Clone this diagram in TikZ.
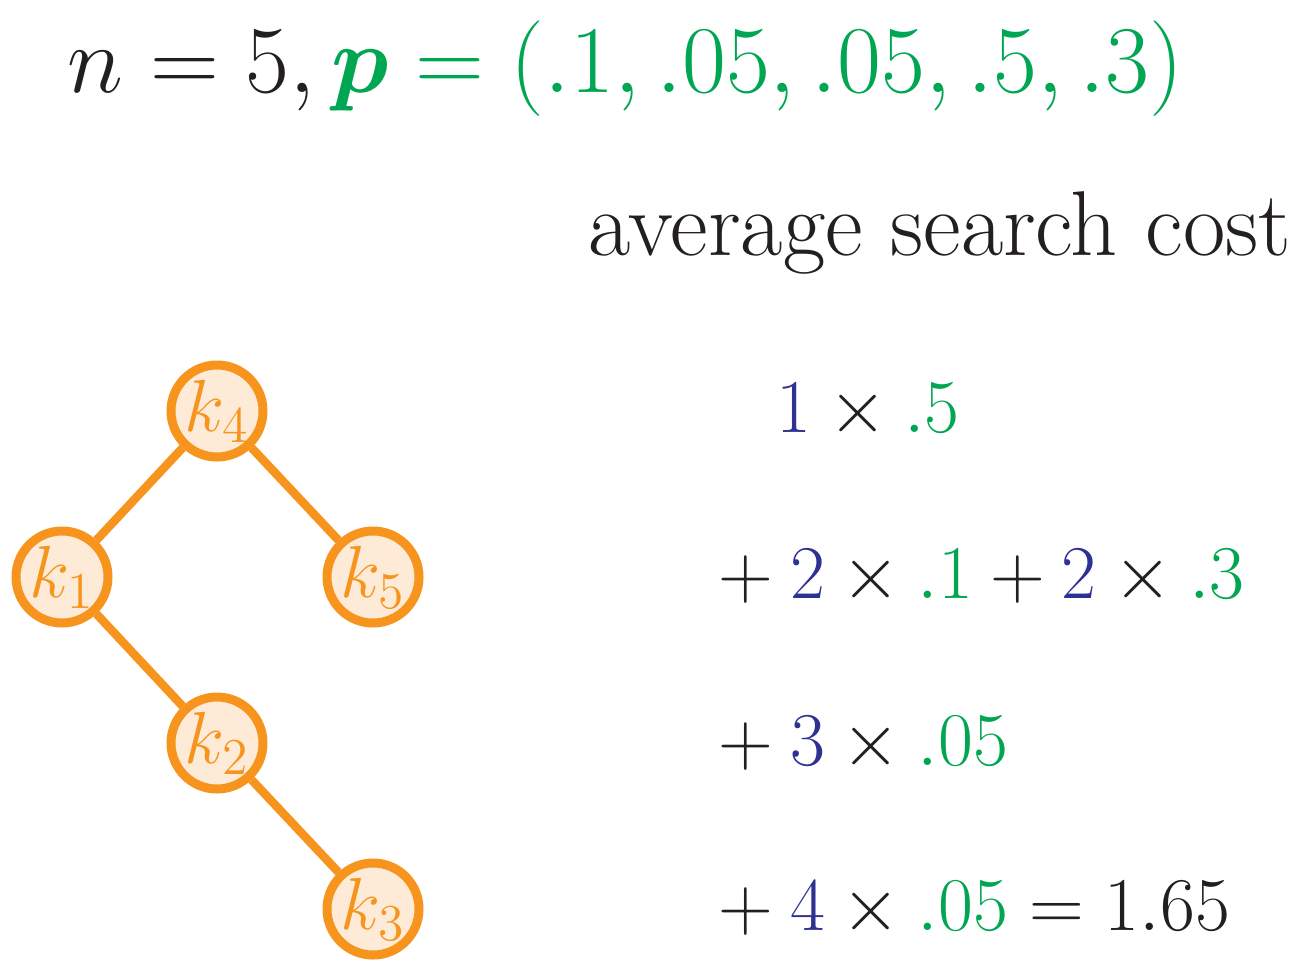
\RequirePackage{fix-cm}
\documentclass[tikz,border=0pt]{standalone}
\usepackage{amsmath}
\usepackage{amssymb}
\usepackage{bm}
\usepackage{tikz}

\definecolor{ink}{HTML}{231F20}
\definecolor{bstorange}{HTML}{F7941D}
\definecolor{bstfill}{HTML}{FDEBD7}
\definecolor{probgreen}{HTML}{00A651}
\definecolor{depthblue}{HTML}{2E3192}

\newcommand{\dep}[1]{\textcolor{depthblue}{#1}}
\newcommand{\prb}[1]{\textcolor{probgreen}{#1}}

\begin{document}
\begin{tikzpicture}[
    key/.style={circle, draw=bstorange, fill=bstfill, line width=0.09cm,
      minimum size=0.92cm, inner sep=0pt, text=bstorange,
      font=\fontsize{21}{24}\selectfont},
    link/.style={bstorange, line width=0.085cm},
    eq/.style={anchor=base west, inner sep=0pt, text=ink,
      font=\fontsize{21.6}{26}\selectfont}
  ]
  \useasboundingbox (0,0) rectangle (12.97,9.63);
  % 1. Khóa và xác suất
  \node[eq, font=\fontsize{27.2}{32}\selectfont] (title) at (0.67,8.71)
    {$n=5, \textcolor{probgreen}{\bm{p}=(.1, .05, .05, .5, .3)}$};
  \node[eq, font=\fontsize{26.2}{30}\selectfont] (avg) at (5.88,7.08) {average search cost};
  % 2. Cây tìm kiếm nhị phân
  \node[key] (k4) at (2.17,5.52) {$k_4$};
  \node[key] (k1) at (0.62,3.86) {$k_1$};
  \node[key] (k5) at (3.73,3.86) {$k_5$};
  \node[key] (k2) at (2.17,2.20) {$k_2$};
  \node[key] (k3) at (3.73,0.54) {$k_3$};
  \draw[link] (k4) -- (k1);
  \draw[link] (k4) -- (k5);
  \draw[link] (k1) -- (k2);
  \draw[link] (k2) -- (k3);
  % 3. Chi phí theo độ sâu
  \node[eq] (row1) at (7.76,5.31) {$\dep{1}\times\prb{.5}$};
  \node[eq] (row2) at (7.01,3.65) {${}+\dep{2}\times\prb{.1}+\dep{2}\times\prb{.3}$};
  \node[eq] (row3) at (7.01,1.98) {${}+\dep{3}\times\prb{.05}$};
  \node[eq] (row4) at (7.01,0.33) {${}+\dep{4}\times\prb{.05}=1.65$};
\end{tikzpicture}
\end{document}
